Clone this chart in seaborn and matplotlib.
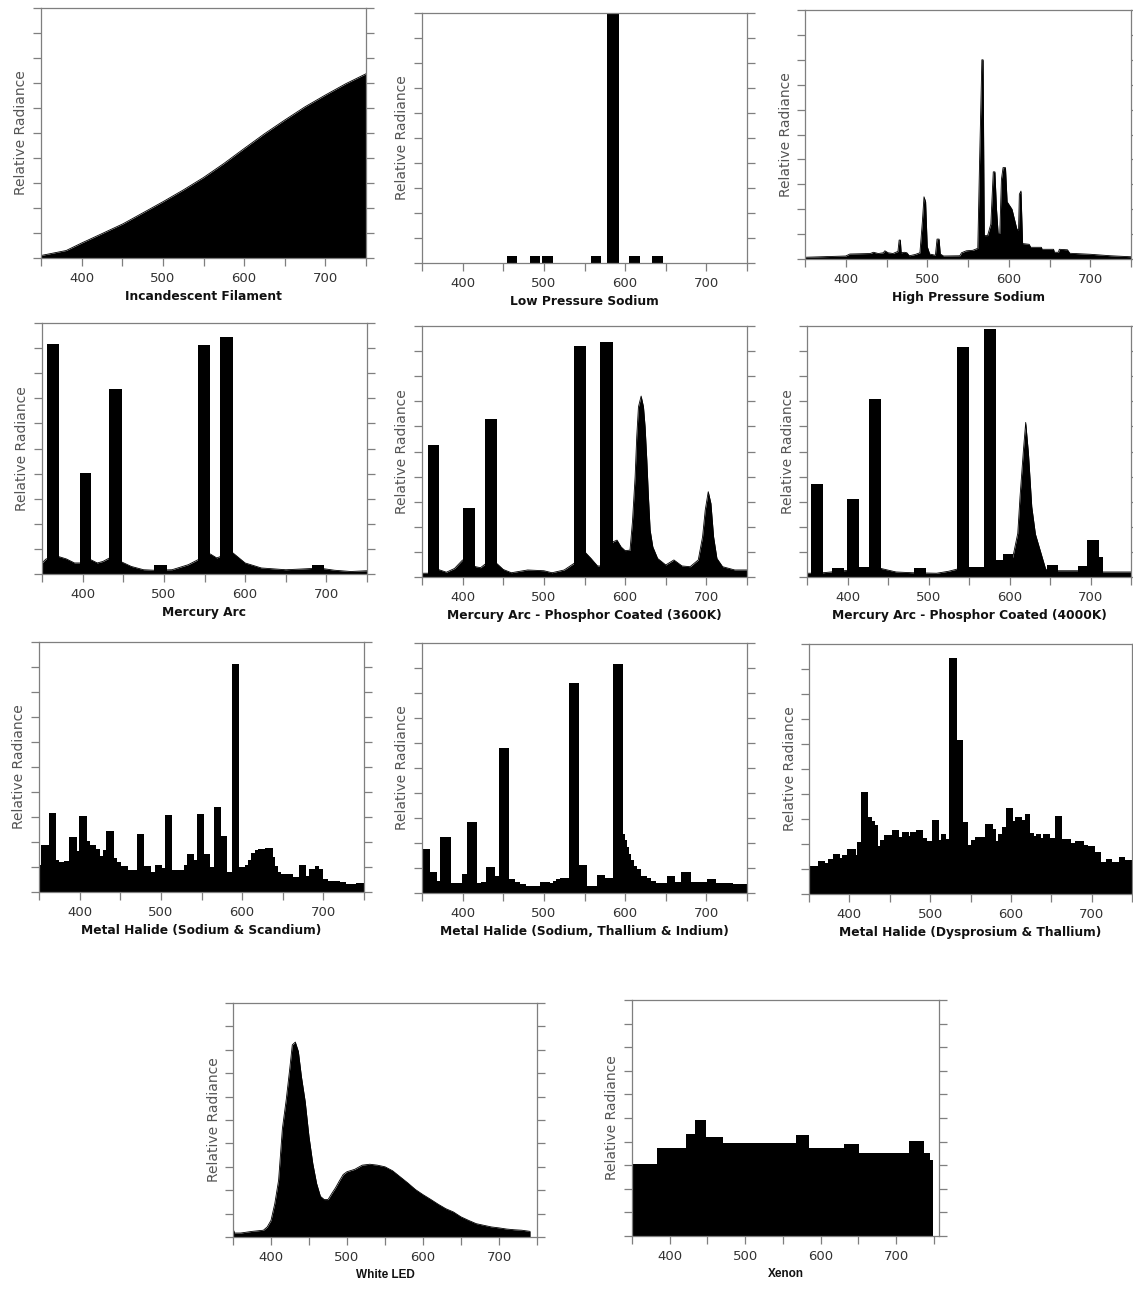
import numpy as np
import seaborn as sns
from matplotlib import pyplot as plt

sns.set_style("ticks")
plt.rcParams['font.family'] = ['DejaVu Sans']

W, H = 1133, 1290

# ---- spectra, relative radiance on a 0-10 scale, wavelength in nm ----

# Incandescent filament (smooth curve)
inc_wl = [350, 381, 400, 422, 451, 475, 500, 525, 550, 575, 600, 625, 650, 675, 700, 725, 750]
inc_rad = [0.10, 0.30, 0.60, 0.93, 1.37, 1.80, 2.25, 2.72, 3.22, 3.78, 4.38, 4.97, 5.52, 6.05, 6.52, 6.97, 7.37]

# Low pressure sodium (lines only)
lps_left = [454, 483, 498, 558, 578, 605, 633]
lps_right = [467, 495, 511, 570, 592, 618, 647]
lps_top = [0.27, 0.27, 0.27, 0.27, 10.0, 0.30, 0.30]

# High pressure sodium (polyline)
hps_wl = [350, 400, 405, 430, 434, 440, 446, 448, 452, 458, 462, 464, 465.5, 467, 468, 472, 475, 478,
          485, 491, 494, 496, 498, 500, 503, 510, 512, 514.5, 516, 520, 540, 542, 548, 556, 562, 564,
          567, 568.5, 570, 574, 578, 581, 583, 585, 587, 589, 591, 593, 596, 598, 604, 610, 612, 613,
          615, 617, 625, 627, 640, 641, 655, 656, 661, 662, 672, 675, 700, 725, 750]
hps_rad = [0.07, 0.12, 0.20, 0.22, 0.27, 0.22, 0.25, 0.33, 0.25, 0.22, 0.28, 0.30, 0.76, 0.76, 0.25, 0.27, 0.25, 0.13,
           0.18, 0.25, 1.50, 2.50, 2.30, 0.50, 0.20, 0.15, 0.80, 0.80, 0.20, 0.12, 0.13, 0.25, 0.33, 0.35, 0.43, 3.60,
           8.00, 8.00, 0.94, 0.94, 1.40, 3.50, 3.50, 2.00, 1.03, 1.03, 3.20, 3.67, 3.67, 2.30, 2.00, 1.20, 1.17, 2.60,
           2.73, 0.62, 0.59, 0.47, 0.47, 0.39, 0.39, 0.27, 0.27, 0.39, 0.37, 0.23, 0.19, 0.13, 0.09]

# Mercury arc: continuum + lines
hg_wl = [350, 355, 370, 380, 390, 397, 410, 418, 425, 433, 448, 460, 475, 488, 510, 520, 530, 542,
         557, 565, 570, 585, 600, 620, 650, 670, 682, 697, 710, 730, 750]
hg_rad = [0.44, 0.60, 0.70, 0.60, 0.44, 0.44, 0.57, 0.44, 0.50, 0.64, 0.48, 0.30, 0.17, 0.15, 0.17, 0.27, 0.37, 0.57,
          0.80, 0.64, 0.70, 0.84, 0.44, 0.24, 0.17, 0.20, 0.22, 0.21, 0.15, 0.10, 0.13]
hg_left = [356.6, 396.8, 433, 488, 542, 569.5, 682.3]
hg_right = [370.5, 410.7, 448, 504, 557, 584.7, 697]
hg_top = [9.15, 4.02, 7.37, 0.35, 9.11, 9.43, 0.35]

# Mercury arc, phosphor coated 3600K
p36_wl = [350, 357, 370, 380, 390, 400, 416, 422, 428, 442, 450, 460, 480, 500, 510, 525, 537, 551,
          558, 566, 570, 585, 590, 595, 600, 606, 609, 612.3, 614.3, 616.4, 619.7, 622.6, 624.6, 626.7,
          628.7, 630.8, 634.1, 640, 650, 660, 670, 680, 690, 695.3, 698.6, 702.3, 705.6, 708.9, 713,
          720, 735, 750]
p36_rad = [0.15, 0.15, 0.30, 0.19, 0.34, 0.68, 0.41, 0.37, 0.52, 0.54, 0.30, 0.17, 0.28, 0.25, 0.17, 0.28, 0.54, 0.98,
           0.74, 0.44, 0.44, 1.40, 1.47, 1.20, 1.05, 1.07, 2.20, 4.00, 5.60, 6.78, 7.21, 6.78, 5.98, 4.66,
           3.20, 1.87, 1.20, 0.74, 0.48, 0.68, 0.44, 0.41, 0.68, 1.60, 2.67, 3.40, 2.93, 1.60, 0.74,
           0.41, 0.28, 0.28]
p36_left = [357, 400.6, 427.7, 537, 569.5]
p36_right = [370.6, 415.8, 441.7, 551.4, 584.7]
p36_top = [5.27, 2.75, 6.29, 9.20, 9.38]

# Mercury arc, phosphor coated 4000K
p40_wl = [350, 355, 370, 395, 440, 460, 480, 510, 525, 536, 600, 605, 610.2, 613, 617.2, 620, 623.4,
          627.5, 632, 644.7, 660, 685, 716, 750]
p40_rad = [0.15, 0.15, 0.17, 0.25, 0.35, 0.20, 0.17, 0.15, 0.23, 0.32, 0.30, 0.93, 1.74, 3.20, 5.06, 6.16, 4.93,
           2.80, 1.71, 0.31, 0.25, 0.25, 0.20, 0.20]
p40_left = [355.3, 380.8, 399.7, 414, 426.9, 482, 535.8, 550.6, 569.1, 583, 591.7, 646.8, 684.2, 696.1, 710]
p40_right = [369.7, 395.2, 414.1, 427, 440.9, 496.8, 550.6, 569.1, 583.1, 591.7, 604.9, 660.4, 696.1, 710, 715.9]
p40_top = [3.69, 0.35, 3.11, 0.39, 7.08, 0.37, 9.16, 0.39, 9.87, 0.68, 0.93, 0.46, 0.44, 1.49, 0.81]

# Metal halide (sodium & scandium), binned
mh1_edges = [350, 353, 362, 370.5, 374, 381, 387, 396.4, 399.6, 409,
             413, 420.5, 425.5, 429, 432, 442, 446, 451, 459.5, 470,
             479, 487.4, 492.8, 501.8, 505, 514, 529, 532.3, 540.5, 544.4,
             552.7, 560.4, 565, 574, 580.9, 587.5, 596.2, 603, 607, 611,
             615.4, 619.5, 627.7, 638, 641, 644, 648, 662.6, 669.6, 679,
             682.3, 689.3, 694.6, 699.6, 705.7, 720, 728, 740.5, 750]
mh1_rad = [1.09, 1.89, 3.17, 1.29, 1.20, 1.23, 2.19, 1.63, 3.05, 2.03,
           1.89, 1.73, 1.43, 1.69, 2.44, 1.36, 1.20, 1.03, 0.87, 2.33,
           1.05, 0.80, 1.09, 0.96, 3.09, 0.89, 1.09, 1.51, 1.29, 3.13,
           1.51, 1.00, 3.40, 2.23, 0.79, 9.12, 1.00, 1.10, 1.30, 1.55,
           1.69, 1.71, 1.76, 1.40, 1.05, 0.80, 0.72, 0.60, 1.09, 0.63,
           0.92, 1.03, 0.92, 0.52, 0.45, 0.39, 0.33, 0.36]

# Metal halide (sodium, thallium & indium), binned
mh2_edges = [350, 359.4, 368.9, 372.6, 385.3, 399.2, 405.4, 417.3, 423, 428.4,
             439.4, 444.8, 457.5, 464, 470, 478, 494.8, 507, 511, 515,
             519.4, 530.5, 542.8, 553.5, 565.4, 574.8, 585.5, 597, 599.4, 602,
             604.5, 607, 611, 615, 620, 627, 631.5, 638.4, 651.5, 661.7,
             668.3, 681.4, 701.2, 711.4, 732.8, 750]
mh2_rad = [1.76, 0.83, 0.48, 2.24, 0.39, 0.76, 2.83, 0.39, 0.43, 1.04,
           0.68, 5.82, 0.56, 0.45, 0.37, 0.30, 0.44, 0.39, 0.47, 0.55,
           0.59, 8.42, 1.12, 0.29, 0.72, 0.59, 9.16, 2.36, 2.12, 1.86,
           1.56, 1.32, 1.10, 0.96, 0.69, 0.59, 0.49, 0.39, 0.68, 0.43,
           0.83, 0.44, 0.56, 0.41, 0.37]

# Metal halide (dysprosium & thallium), binned
mh3_edges = [350, 361, 369.3, 373.5, 379.6, 387.9, 391, 397.3, 407.6, 409,
             414.6, 422.8, 427.8, 431.9, 436, 438.5, 443.4, 452.9, 462, 464.8,
             473.5, 475.5, 482.5, 490.7, 496, 501.9, 510.5, 513.4, 520, 523.7,
             533.6, 540.1, 547.5, 551.2, 555.3, 567.7, 578, 581.3, 584.6, 589.5,
             593.6, 603, 605, 614, 617.4, 623.7, 629, 631.5, 637.7, 640,
             649, 654.5, 663.6, 673.9, 680, 690.3, 695.3, 703.9, 711, 718,
             725.3, 734.4, 741, 750]
mh3_rad = [1.13, 1.33, 1.24, 1.41, 1.60, 1.44, 1.57, 1.80, 1.57, 2.09,
           4.07, 3.07, 2.93, 2.77, 1.93, 2.15, 2.35, 2.55, 2.28, 2.49,
           2.33, 2.48, 2.57, 2.24, 2.11, 2.97, 2.17, 2.39, 2.21, 9.44,
           6.17, 2.88, 1.95, 2.15, 2.28, 2.81, 2.61, 2.13, 2.41, 2.67,
           3.44, 2.91, 3.08, 2.97, 3.20, 2.44, 2.31, 2.41, 2.24, 2.40,
           2.24, 3.13, 2.21, 2.04, 2.13, 1.97, 1.91, 1.67, 1.28, 1.40,
           1.28, 1.47, 1.37]

# White LED (smooth curve)
led_wl = [350, 352, 360, 375, 390, 395, 400, 405, 410, 415, 420, 425, 428, 432, 436, 440, 445, 450,
          455, 460, 465, 470, 475, 480, 485, 490, 495, 500, 510, 520, 530, 540, 550, 560, 570, 580,
          590, 600, 610, 620, 630, 640, 650, 660, 670, 680, 690, 700, 710, 720, 730, 741]
led_rad = [0.36, 0.17, 0.17, 0.24, 0.29, 0.43, 0.71, 1.43, 2.43, 4.64, 5.86, 7.29, 8.21, 8.33, 7.93, 6.86, 5.79, 4.29,
           3.14, 2.29, 1.74, 1.60, 1.60, 1.86, 2.11, 2.40, 2.67, 2.79, 2.89, 3.07, 3.11, 3.07, 3.00, 2.83, 2.57, 2.31,
           2.03, 1.81, 1.61, 1.40, 1.21, 1.07, 0.86, 0.71, 0.57, 0.50, 0.43, 0.39, 0.34, 0.31, 0.29, 0.24]

# Xenon, binned
xe_edges = [350, 383.5, 422, 434, 448.7, 470.7, 567, 584.8, 631.5, 651.3, 717, 736.8, 744.7, 749]
xe_rad = [3.04, 3.74, 4.33, 4.93, 4.21, 3.96, 4.26, 3.74, 3.89, 3.50, 4.03, 3.53, 3.24]

fig = plt.figure(figsize=(W / 100, H / 100), dpi=100)


def make_axes(left, top, right, bottom):
    # pixel box -> figure fraction
    return fig.add_axes([left / W, 1 - bottom / H, (right - left) / W, (bottom - top) / H])


def draw_curve(ax, wl, rad):
    ax.fill_between(wl, 0, rad, color='black', linewidth=0)
    sns.lineplot(x=wl, y=rad, ax=ax, color='black', linewidth=0.6, sort=False, estimator=None)


def draw_lines(ax, left, right, top):
    ax.bar(left, top, width=np.subtract(right, left), align='edge', color='black', linewidth=0)


def draw_bins(ax, edges, rad):
    sns.histplot(x=edges[:-1], weights=rad, bins=edges, element='step', fill=True,
                 color='black', alpha=1, linewidth=0, ax=ax)


def finish(ax, title, xmax=750, title_font='DejaVu Sans', title_size=8.8):
    ax.set_xlim(350, xmax)
    ax.set_ylim(0, 10)
    ax.set_xticks([400, 500, 600, 700])
    ax.set_xticks([350, 450, 550, 650, 750], minor=True)
    ax.set_yticks(range(11))
    ax.set_yticklabels([])
    ax.tick_params(axis='both', which='both', direction='out', length=6, width=0.9,
                   color='#7f7f7f', labelsize=9.5, labelcolor='#333333', pad=4)
    ax.tick_params(axis='y', left=True, right=True)
    ax.tick_params(axis='x', which='both', top=False)
    for s in ax.spines.values():
        s.set_visible(True)
        s.set_color('#7f7f7f')
        s.set_linewidth(0.9)
    ax.set_ylabel('Relative Radiance', fontsize=10, color='#555555', labelpad=-1)
    ax.set_xlabel(title, fontsize=title_size, fontweight='bold', color='#111111',
                  family=title_font, labelpad=4)


# row 1
ax = make_axes(41, 8, 366, 258)
draw_curve(ax, inc_wl, inc_rad)
finish(ax, 'Incandescent Filament')

ax = make_axes(422, 13, 747, 263)
draw_lines(ax, lps_left, lps_right, lps_top)
finish(ax, 'Low Pressure Sodium')

ax = make_axes(805, 10, 1131, 259)
draw_curve(ax, hps_wl, hps_rad)
finish(ax, 'High Pressure Sodium')

# row 2
ax = make_axes(42, 323, 367, 574)
draw_curve(ax, hg_wl, hg_rad)
draw_lines(ax, hg_left, hg_right, hg_top)
finish(ax, 'Mercury Arc')

ax = make_axes(422, 326, 747, 577)
draw_curve(ax, p36_wl, p36_rad)
draw_lines(ax, p36_left, p36_right, p36_top)
finish(ax, 'Mercury Arc - Phosphor Coated (3600K)')

ax = make_axes(807, 326, 1131, 577)
draw_curve(ax, p40_wl, p40_rad)
draw_lines(ax, p40_left, p40_right, p40_top)
finish(ax, 'Mercury Arc - Phosphor Coated (4000K)')

# row 3
ax = make_axes(39, 642, 364, 892)
draw_bins(ax, mh1_edges, mh1_rad)
finish(ax, 'Metal Halide (Sodium & Scandium)')

ax = make_axes(422, 643, 747, 893)
draw_bins(ax, mh2_edges, mh2_rad)
finish(ax, 'Metal Halide (Sodium, Thallium & Indium)')

ax = make_axes(809, 644, 1132, 894)
draw_bins(ax, mh3_edges, mh3_rad)
finish(ax, 'Metal Halide (Dysprosium & Thallium)')

# row 4
ax = make_axes(233, 1003, 537, 1237)
draw_curve(ax, led_wl, led_rad)
finish(ax, 'White LED', xmax=746, title_font='Liberation Sans', title_size=8.5)

ax = make_axes(632, 1000, 939, 1236)
draw_bins(ax, xe_edges, xe_rad)
finish(ax, 'Xenon', xmax=757, title_font='Liberation Sans', title_size=8.5)

fig.savefig('out.png', dpi=100, facecolor='white')
